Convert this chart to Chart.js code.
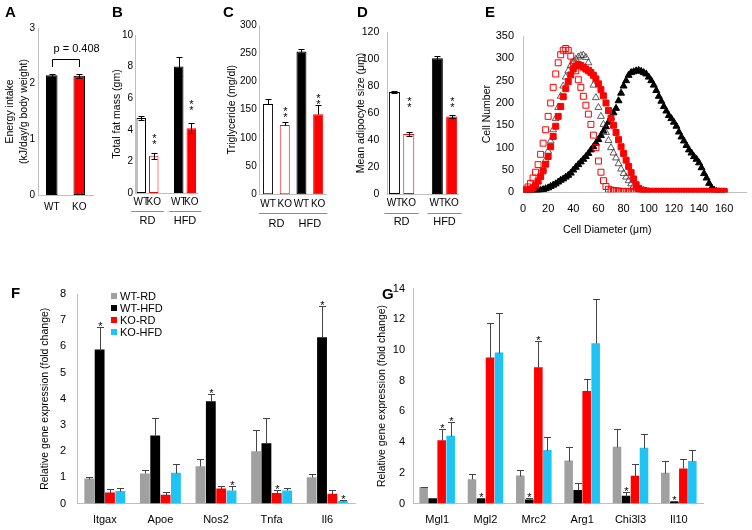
<!DOCTYPE html>
<html>
<head>
<meta charset="utf-8">
<script src="https://cdn.jsdelivr.net/npm/chart.js@4.4.0/dist/chart.umd.min.js"></script>
<style>
body { margin: 0; background: #fff; }
#fig { position: relative; width: 752px; height: 530px; overflow: hidden; font-family: "Liberation Sans", Arial, sans-serif; }
#fig canvas { position: absolute; }
.lbl { position: absolute; font-weight: bold; font-size: 15px; color: #000; }
</style>
</head>
<body>
<div id="fig">
  <canvas id="chartA"></canvas>
  <canvas id="chartB"></canvas>
  <canvas id="chartC"></canvas>
  <canvas id="chartD"></canvas>
  <canvas id="chartE"></canvas>
  <canvas id="chartF"></canvas>
  <canvas id="chartG"></canvas>
  <div class="lbl" style="left:5px;top:3px">A</div>
  <div class="lbl" style="left:112px;top:3px">B</div>
  <div class="lbl" style="left:223px;top:3px">C</div>
  <div class="lbl" style="left:357px;top:3px">D</div>
  <div class="lbl" style="left:485px;top:3px">E</div>
  <div class="lbl" style="left:11px;top:284px">F</div>
  <div class="lbl" style="left:382px;top:285px">G</div>
</div>
<script>
// A - energy intake
var intakeGroups = ["WT", "KO"];
var intakeMean = [2.15, 2.14];
var intakeErr = [0.03, 0.03];
var intakeP = "p = 0.408";

// B, C, D - WT / KO on regular diet and high fat diet
var genotypes = ["WT", "KO", "WT", "KO"];
var diets = ["RD", "HFD"];
var fatMass = [4.75, 2.35, 8.0, 4.1];
var fatMassErr = [0.15, 0.2, 0.6, 0.3];
var fatMassStars = [null, 3.4, null, 5.6];
var triglyceride = [160, 123, 253, 142];
var triglycerideErr = [8, 6, 4, 16];
var triglycerideStars = [null, 145, null, 168];
var adipocyteSize = [75.5, 44.5, 100.5, 57.5];
var adipocyteErr = [1, 1.2, 1.5, 1];
var adipocyteStars = [null, 68, null, 68];

// E - cell size distribution
var cellDiameterTicks = [0, 20, 40, 60, 80, 100, 120, 140, 160];
var cellDiameter = [0, 2, 4, 6, 8, 10, 12, 14, 16, 18, 20, 22, 24, 26, 28, 30, 32, 34, 36, 38,
  40, 42, 44, 46, 48, 50, 52, 54, 56, 58, 60, 62, 64, 66, 68, 70, 72, 74, 76, 78,
  80, 82, 84, 86, 88, 90, 92, 94, 96, 98, 100, 102, 104, 106, 108, 110, 112, 114, 116, 118,
  120, 122, 124, 126, 128, 130, 132, 134, 136, 138, 140, 142, 144, 146, 148, 150, 152, 154, 156, 158, 160];
var cellsWtRd = [1, 2, 3, 5, 8, 14, 24, 36, 52, 72, 92, 115, 140, 165, 190, 215, 238, 258, 272, 284,
  292, 298, 303, 306, 307, 302, 290, 272, 240, 212, 190, 170, 152, 134, 116, 100, 88, 77, 64, 52,
  42, 34, 26, 19, 14, 10, 7, 5, 4, 3, 1, 1, 1, 1, 1, 1, 1, 1, 1, 1,
  1, 1, 1, 1, 1, 1, 1, 1, 1, 1, 1, 1, 1, 1, 1, 1, 1, 1, 1, 1, 1];
var cellsWtHfd = [0, 1, 1, 2, 2, 3, 4, 5, 6, 8, 10, 13, 16, 19, 23, 27, 30, 34, 38, 43,
  50, 56, 62, 68, 74, 80, 87, 95, 102, 110, 118, 127, 137, 147, 157, 168, 178, 188, 205, 222,
  238, 250, 262, 268, 270, 272, 273, 271, 268, 265, 258, 250, 240, 228, 215, 204, 192, 182, 172, 165,
  157, 148, 135, 124, 115, 105, 95, 88, 80, 74, 66, 55, 42, 32, 20, 10, 5, 2, 1, 0, 0];
var cellsKoRd = [4, 7, 12, 20, 32, 45, 62, 85, 110, 140, 170, 200, 235, 265, 290, 308, 318, 322, 318, 305,
  290, 272, 252, 235, 215, 195, 175, 152, 128, 100, 70, 45, 26, 13, 7, 5, 4, 3, 3, 2,
  2, 2, 2, 1, 1, 1, 1, 1, 1, 1, 1, 1, 1, 1, 1, 1, 1, 1, 1, 1,
  1, 1, 1, 1, 1, 1, 1, 1, 1, 1, 1, 1, 1, 1, 1, 1, 1, 1, 1, 1, 1];
var cellsKoHfd = [2, 3, 5, 7, 10, 16, 25, 35, 48, 63, 80, 102, 125, 148, 170, 192, 214, 232, 248, 263,
  276, 283, 286, 284, 280, 276, 272, 268, 262, 254, 243, 230, 216, 200, 183, 166, 150, 134, 118, 102,
  87, 72, 58, 44, 30, 17, 9, 5, 4, 3, 2, 2, 2, 2, 2, 2, 2, 2, 2, 2,
  2, 2, 2, 2, 2, 2, 2, 2, 2, 2, 2, 2, 2, 2, 2, 2, 2, 2, 2, 2, 2];

// F - M1 markers
var seriesNames = ["WT-RD", "WT-HFD", "KO-RD", "KO-HFD"];
var m1Genes = ["Itgax", "Apoe", "Nos2", "Tnfa", "Il6"];
var m1WtRd = [0.95, 1.15, 1.42, 2.0, 1.0];
var m1WtRdErr = [0.05, 0.12, 0.28, 0.8, 0.12];
var m1WtHfd = [5.88, 2.6, 3.9, 2.3, 6.35];
var m1WtHfdErr = [0.85, 0.65, 0.28, 0.95, 1.2];
var m1KoRd = [0.42, 0.33, 0.57, 0.4, 0.37];
var m1KoRdErr = [0.13, 0.12, 0.08, 0.13, 0.15];
var m1KoHfd = [0.48, 1.17, 0.5, 0.5, 0.1];
var m1KoHfdErr = [0.13, 0.35, 0.17, 0.1, 0.02];
var m1WtHfdStar = [1, 0, 1, 0, 1];
var m1KoRdStar = [0, 0, 0, 1, 0];
var m1KoHfdStar = [0, 0, 1, 0, 1];

// G - M2 markers
var m2Genes = ["Mgl1", "Mgl2", "Mrc2", "Arg1", "Chi3l3", "Il10"];
var m2WtRd = [1.08, 1.58, 1.82, 2.8, 3.7, 2.0];
var m2WtRdErr = [0.02, 0.33, 0.38, 0.9, 1.15, 0.78];
var m2WtHfd = [0.35, 0.32, 0.26, 0.88, 0.5, 0.13];
var m2WtHfdErr = [0.02, 0.02, 0.11, 0.47, 0.26, 0.03];
var m2KoRd = [4.12, 9.5, 8.87, 7.33, 1.8, 2.28];
var m2KoRdErr = [0.76, 2.24, 1.74, 0.76, 0.77, 0.61];
var m2KoHfd = [4.41, 9.83, 3.48, 10.43, 3.63, 2.76];
var m2KoHfdErr = [0.87, 2.56, 0.87, 2.87, 0.87, 0.72];
var m2WtHfdStar = [0, 1, 1, 0, 1, 1];
var m2KoRdStar = [1, 0, 1, 0, 0, 0];
var m2KoHfdStar = [1, 0, 0, 0, 0, 0];

var FONT = '"Liberation Sans", Arial, sans-serif';
var AXIS = "#bfbfbf";
var GREY = "#a0a0a0";
var RED = "#ff0000";
var CYAN = "#1fc4f4";

Chart.defaults.font.family = FONT;
Chart.defaults.font.size = 11;
Chart.defaults.color = "#000";
Chart.defaults.animation = false;
Chart.defaults.plugins.legend.display = false;
Chart.defaults.plugins.tooltip.enabled = false;

// put canvas on the page and work out padding so the plot area lands where we want
function setup(id, box) {
  var c = document.getElementById(id);
  c.width = box.w;
  c.height = box.h;
  c.style.left = box.x + "px";
  c.style.top = box.y + "px";
  return c;
}
function frame(box, area, yW, xH) {
  return {
    left: area.l - box.x - yW,
    right: box.x + box.w - area.r,
    top: area.t - box.y,
    bottom: box.y + box.h - area.b - xH
  };
}
function yLin(max, step, title, yW, pad, size) {
  return {
    min: 0, max: max,
    ticks: { stepSize: step, padding: pad, font: { size: size || 10 } },
    grid: { display: false, drawTicks: false },
    border: { color: AXIS },
    title: { display: true, text: title, padding: 0, font: { size: 10.5, lineHeight: 1.3 } },
    afterFit: function (s) { s.width = yW; }
  };
}
function xCat(xH, pad, size) {
  return {
    grid: { display: false, drawTicks: false },
    border: { color: AXIS },
    ticks: { padding: pad, autoSkip: false, maxRotation: 0, font: { size: size || 10 } },
    afterFit: function (s) { s.height = xH; }
  };
}
// insert an empty slot between the RD and HFD pairs
function gap(arr) {
  return [arr[0], arr[1], null, arr[2], arr[3]];
}

var errPlugin = {
  id: "errPlugin",
  afterDatasetsDraw: function (chart) {
    var ctx = chart.ctx, ys = chart.scales.y;
    chart.data.datasets.forEach(function (ds, i) {
      if (!ds.err) return;
      var meta = chart.getDatasetMeta(i);
      ctx.save();
      ctx.strokeStyle = ds.errColor || "#000";
      ctx.lineWidth = 1;
      meta.data.forEach(function (el, j) {
        var v = ds.data[j], e = ds.err[j];
        if (v == null || e == null) return;
        var x = Math.round(el.x) + 0.5;
        var top = Math.round(ys.getPixelForValue(v + e)) + 0.5;
        var bot = Math.round(ys.getPixelForValue(ds.errBoth ? v - e : v)) + 0.5;
        var cw = ds.capW || 3;
        ctx.beginPath();
        ctx.moveTo(x, bot); ctx.lineTo(x, top);
        ctx.moveTo(x - cw, top); ctx.lineTo(x + cw, top);
        if (ds.errBoth) { ctx.moveTo(x - cw, bot); ctx.lineTo(x + cw, bot); }
        ctx.stroke();
        ctx.fillStyle = "#000";
        ctx.font = "11px " + FONT;
        ctx.textAlign = "center";
        ctx.textBaseline = "alphabetic";
        if (ds.stars && ds.stars[j]) {
          ctx.fillText("*", x, top + 2);
        }
        if (ds.starAt && ds.starAt[j] != null) {
          var p = ys.getPixelForValue(ds.starAt[j]);
          ctx.fillText("*", x, p + 3);
          ctx.fillText("*", x, p + 9);
        }
      });
      ctx.restore();
    });
  }
};

var bracketPlugin = {
  id: "pBracket",
  afterDatasetsDraw: function (chart, args, o) {
    if (!o.text) return;
    var ctx = chart.ctx, x = chart.scales.x, y = chart.scales.y;
    var x0 = Math.round(x.getPixelForValue(0)) + 0.5, x1 = Math.round(x.getPixelForValue(1)) + 0.5;
    var yt = Math.round(y.getPixelForValue(o.top)) + 0.5, yb = y.getPixelForValue(o.bottom);
    ctx.save();
    ctx.strokeStyle = "#000";
    ctx.lineWidth = 1;
    ctx.beginPath();
    ctx.moveTo(x0, yb); ctx.lineTo(x0, yt); ctx.lineTo(x1, yt); ctx.lineTo(x1, yb);
    ctx.stroke();
    ctx.fillStyle = "#000";
    ctx.font = "11px " + FONT;
    ctx.textAlign = "left";
    ctx.textBaseline = "middle";
    ctx.fillText(o.text, x0 + 1, y.getPixelForValue(o.textAt));
    ctx.restore();
  }
};

var dietPlugin = {
  id: "diets",
  afterDraw: function (chart, args, o) {
    if (!o.names) return;
    var ctx = chart.ctx, x = chart.scales.x, area = chart.chartArea;
    var slot = x.getPixelForValue(1) - x.getPixelForValue(0);
    ctx.save();
    ctx.strokeStyle = "#8c8c8c";
    ctx.lineWidth = 1;
    ctx.fillStyle = "#000";
    ctx.font = "11px " + FONT;
    ctx.textAlign = "center";
    ctx.textBaseline = "middle";
    o.slots.forEach(function (pair, g) {
      var a = x.getPixelForValue(pair[0]) - slot * o.ext;
      var b = x.getPixelForValue(pair[1]) + slot * o.ext;
      var ly = Math.round(area.bottom + o.lineGap) + 0.5;
      ctx.beginPath();
      ctx.moveTo(a, ly); ctx.lineTo(b, ly);
      ctx.stroke();
      ctx.fillText(o.names[g], (a + b) / 2, area.bottom + o.textGap);
    });
    ctx.restore();
  }
};

var boxLegend = {
  id: "boxLegend",
  afterDraw: function (chart, args, o) {
    if (!o.show) return;
    var ctx = chart.ctx, area = chart.chartArea;
    ctx.save();
    ctx.font = "11px " + FONT;
    ctx.textBaseline = "middle";
    ctx.textAlign = "left";
    chart.data.datasets.forEach(function (ds, i) {
      var y = area.top + o.dy + i * o.row;
      ctx.fillStyle = ds.backgroundColor;
      ctx.fillRect(area.left + o.dx, y - 3, 6, 6);
      ctx.fillStyle = "#000";
      ctx.fillText(ds.label, area.left + o.dx + 9, y + 0.5);
    });
    ctx.restore();
  }
};

var xTitlePlugin = {
  id: "xTitle",
  afterDraw: function (chart, args, o) {
    if (!o.text) return;
    var ctx = chart.ctx;
    ctx.save();
    ctx.font = "10.5px " + FONT;
    ctx.fillStyle = "#000";
    ctx.textAlign = "center";
    ctx.textBaseline = "middle";
    ctx.fillText(o.text, chart.scales.x.getPixelForValue(o.at), chart.chartArea.bottom + o.dy);
    ctx.restore();
  }
};

// ---------- A ----------
var boxA = { x: 0, y: 0, w: 100, h: 232 };
var areaA = { l: 38, t: 28, r: 93, b: 195 };
new Chart(setup("chartA", boxA), {
  type: "bar",
  data: {
    labels: intakeGroups,
    datasets: [{
      data: intakeMean, err: intakeErr, errBoth: true, capW: 3,
      backgroundColor: ["#000", RED], borderColor: "#000", borderWidth: 1, borderSkipped: false,
      barPercentage: 0.42, categoryPercentage: 1
    }]
  },
  options: {
    responsive: false, devicePixelRatio: 1,
    layout: { padding: frame(boxA, areaA, 34.8, 35) },
    scales: {
      x: xCat(35, 6),
      y: yLin(3, 1, ["Energy intake", "(kJ/day/g body weight)"], 34.8, 3)
    },
    plugins: { pBracket: { text: intakeP, top: 2.44, bottom: 2.3, textAt: 2.62 } }
  },
  plugins: [errPlugin, bracketPlugin]
});

// bar colours for the WT/KO x RD/HFD panels
var dietFill = ["#fff", "#fff", null, "#000", RED];
var dietLine = ["#000", RED, null, "#000", RED];

// ---------- B ----------
var boxB = { x: 100, y: 0, w: 105, h: 232 };
var areaB = { l: 135, t: 35, r: 197.5, b: 193 };
new Chart(setup("chartB", boxB), {
  type: "bar",
  data: {
    labels: gap(genotypes).map(function (g) { return g || ""; }),
    datasets: [{
      data: gap(fatMass), err: gap(fatMassErr), starAt: gap(fatMassStars), errBoth: true, capW: 3,
      backgroundColor: dietFill, borderColor: dietLine, borderWidth: 1, borderSkipped: false,
      barPercentage: 0.76, categoryPercentage: 1
    }]
  },
  options: {
    responsive: false, devicePixelRatio: 1,
    layout: { padding: frame(boxB, areaB, 24.8, 37) },
    scales: { x: xCat(37, 3), y: yLin(10, 2, "Total fat mass (gm)", 24.8, 2) },
    plugins: { diets: { names: diets, slots: [[0, 1], [3, 4]], ext: 0.8, lineGap: 18, textGap: 28 } }
  },
  plugins: [errPlugin, dietPlugin]
});

// ---------- C ----------
var boxC = { x: 205, y: 0, w: 125, h: 232 };
var areaC = { l: 259.7, t: 25, r: 326.5, b: 194.3 };
new Chart(setup("chartC", boxC), {
  type: "bar",
  data: {
    labels: genotypes,
    datasets: [{
      data: triglyceride, err: triglycerideErr, starAt: triglycerideStars, capW: 3,
      backgroundColor: ["#fff", "#fff", "#000", RED], borderColor: ["#000", RED, "#000", RED],
      borderWidth: 1, borderSkipped: false,
      barPercentage: 0.6, categoryPercentage: 1
    }]
  },
  options: {
    responsive: false, devicePixelRatio: 1,
    layout: { padding: frame(boxC, areaC, 34.8, 36) },
    scales: { x: xCat(36, 4), y: yLin(300, 50, "Triglyceride (mg/dl)", 34.8, 3) },
    plugins: { diets: { names: diets, slots: [[0, 1], [2, 3]], ext: 0.55, lineGap: 19, textGap: 30 } }
  },
  plugins: [errPlugin, dietPlugin]
});

// ---------- D ----------
var boxD = { x: 330, y: 0, w: 140, h: 232 };
var areaD = { l: 387.3, t: 32, r: 458.8, b: 194 };
new Chart(setup("chartD", boxD), {
  type: "bar",
  data: {
    labels: gap(genotypes).map(function (g) { return g || ""; }),
    datasets: [{
      data: gap(adipocyteSize), err: gap(adipocyteErr), starAt: gap(adipocyteStars), errBoth: true, capW: 3,
      backgroundColor: dietFill, borderColor: dietLine, borderWidth: 1, borderSkipped: false,
      barPercentage: 0.77, categoryPercentage: 1
    }]
  },
  options: {
    responsive: false, devicePixelRatio: 1,
    layout: { padding: frame(boxD, areaD, 33.1, 36) },
    scales: { x: xCat(36, 3), y: yLin(120, 20, "Mean adipocyte size (\u03bcm)", 33.1, 8, 10.5) },
    plugins: { diets: { names: diets, slots: [[0, 1], [3, 4]], ext: 0.7, lineGap: 19, textGap: 28 } }
  },
  plugins: [errPlugin, dietPlugin]
});

// ---------- E ----------
function pts(arr) {
  return cellDiameter.map(function (d, i) { return { x: d, y: arr[i] }; });
}
var boxE = { x: 470, y: 0, w: 282, h: 245 };
var areaE = { l: 523, t: 36, r: 748, b: 192.3 };
new Chart(setup("chartE", boxE), {
  type: "scatter",
  data: {
    datasets: [
      { data: pts(cellsKoHfd), pointStyle: "rect", pointRadius: 4.2, backgroundColor: RED, borderColor: RED, borderWidth: 1 },
      { data: pts(cellsKoRd), pointStyle: "rect", pointRadius: 4.2, backgroundColor: "rgba(255,255,255,0)", borderColor: RED, borderWidth: 1 },
      { data: pts(cellsWtRd), pointStyle: "triangle", pointRadius: 4, backgroundColor: "rgba(255,255,255,0)", borderColor: "#333", borderWidth: 0.8 },
      { data: pts(cellsWtHfd), pointStyle: "triangle", pointRadius: 4, backgroundColor: "#000", borderColor: "#000", borderWidth: 1 }
    ]
  },
  options: {
    responsive: false, devicePixelRatio: 1,
    layout: { padding: frame(boxE, areaE, 42.8, 25) },
    scales: {
      x: {
        type: "linear", min: 0, max: 178,
        grid: { display: false, drawTicks: false }, border: { color: AXIS },
        ticks: { padding: 10, maxRotation: 0, autoSkip: false, font: { size: 11 } },
        afterBuildTicks: function (s) {
          s.ticks = cellDiameterTicks.map(function (v) { return { value: v }; });
        },
        afterFit: function (s) { s.height = 25; }
      },
      y: yLin(350, 50, "Cell Number", 42.8, 9, 11)
    },
    plugins: { xTitle: { text: "Cell Diameter (\u03bcm)", at: 67, dy: 38 } }
  },
  plugins: [xTitlePlugin]
});

// ---------- F / G ----------
function geneChart(id, box, area, yW, tickPad, genes, sets, max, step, legend) {
  var colors = [GREY, "#000", RED, CYAN];
  return new Chart(setup(id, box), {
    type: "bar",
    data: {
      labels: genes,
      datasets: sets.map(function (s, i) {
        return {
          label: seriesNames[i], data: s[0], err: s[1], stars: s[2], capW: 3.5, errColor: "#444",
          backgroundColor: colors[i], borderWidth: 0,
          barPercentage: 0.95, categoryPercentage: 0.745
        };
      })
    },
    options: {
      responsive: false, devicePixelRatio: 1,
      layout: { padding: frame(box, area, yW, 25) },
      scales: {
        x: xCat(25, 10, 11),
        y: yLin(max, step, "Relative gene expression (fold change)", yW, tickPad, 11)
      },
      plugins: { boxLegend: { show: legend, dx: 34, dy: 2, row: 12 } }
    },
    plugins: [errPlugin, boxLegend]
  });
}

geneChart("chartF", { x: 0, y: 270, w: 376, h: 260 }, { l: 77, t: 294, r: 355, b: 503.5 }, 38.8, 11, m1Genes, [
  [m1WtRd, m1WtRdErr, null],
  [m1WtHfd, m1WtHfdErr, m1WtHfdStar],
  [m1KoRd, m1KoRdErr, m1KoRdStar],
  [m1KoHfd, m1KoHfdErr, m1KoHfdStar]
], 8, 1, true);

geneChart("chartG", { x: 370, y: 270, w: 382, h: 260 }, { l: 413, t: 288.5, r: 703, b: 503.5 }, 37.8, 8, m2Genes, [
  [m2WtRd, m2WtRdErr, null],
  [m2WtHfd, m2WtHfdErr, m2WtHfdStar],
  [m2KoRd, m2KoRdErr, m2KoRdStar],
  [m2KoHfd, m2KoHfdErr, m2KoHfdStar]
], 14, 2, false);
</script>
</body>
</html>
